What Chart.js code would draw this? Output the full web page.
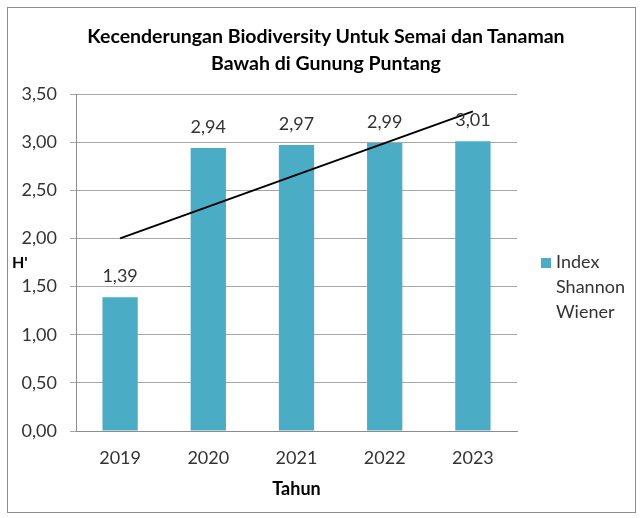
<!DOCTYPE html>
<html>
<head>
<meta charset="utf-8">
<script src="https://cdn.jsdelivr.net/npm/chart.js@4"></script>
<style>
  body { margin: 0; background: #fff; font-family: Lato, "Open Sans", sans-serif; }
  #wrap { position: relative; width: 643px; height: 518px; }
  #frame { position: absolute; left: 7px; top: 7px; width: 627px; height: 504px; border: 1px solid #8c8c8c; }
  #title { position: absolute; left: 0; width: 652px; top: 22px; text-align: center; font-weight: bold; font-size: 19.5px; line-height: 27px; color: #000; }
  #ylab { position: absolute; left: 12px; top: 252px; font-weight: bold; font-size: 16px; }
  #legend { position: absolute; left: 541px; top: 249px; font-size: 18px; line-height: 25px; color: #333; }
  #legend span.box { display: inline-block; width: 10px; height: 10px; background: #4bacc6; margin-right: 5px; }
  #legend div.txt { padding-left: 15px; }
  canvas { position: absolute; left: 0; top: 0; }
</style>
</head>
<body>
<div id="wrap">
  <div id="frame"></div>
  <canvas id="chart" width="643" height="518"></canvas>
  <div id="title">Kecenderungan Biodiversity Untuk Semai dan Tanaman<br>Bawah di Gunung Puntang</div>
  <div id="ylab">H'</div>
  <div id="legend"><span class="box"></span>Index<div class="txt">Shannon</div><div class="txt">Wiener</div></div>
</div>
<script>
// data
const years = ["2019", "2020", "2021", "2022", "2023"];
const shannonIndex = [1.39, 2.94, 2.97, 2.99, 3.01];
// trend line endpoints (first and last year only)
const trendLine = [2.00, null, null, null, 3.32];

const fmt = (v) => v.toFixed(2).replace(".", ",");

// value labels above bars
const barLabels = {
  id: "barLabels",
  afterDatasetsDraw(chart) {
    const ctx = chart.ctx;
    const meta = chart.getDatasetMeta(0);
    ctx.save();
    ctx.font = "18px Lato";
    ctx.fillStyle = "#333";
    ctx.textAlign = "center";
    ctx.textBaseline = "alphabetic";
    meta.data.forEach((bar, i) => {
      ctx.fillText(fmt(shannonIndex[i]), bar.x, bar.y - 15);
    });
    ctx.restore();
  },
};

const ctx = document.getElementById("chart").getContext("2d");
new Chart(ctx, {
  data: {
    labels: years,
    datasets: [
      {
        type: "bar",
        label: "Index Shannon Wiener",
        data: shannonIndex,
        backgroundColor: "#4bacc6",
        categoryPercentage: 1,
        barPercentage: 0.4,
        order: 2,
      },
      {
        type: "line",
        label: "Trend",
        data: trendLine,
        borderColor: "#000",
        borderWidth: 2,
        pointRadius: 0,
        spanGaps: true,
        tension: 0,
        order: 1,
      },
    ],
  },
  options: {
    responsive: false,
    animation: false,
    layout: { padding: { top: 94, left: 0, right: 126, bottom: 0 } },
    plugins: {
      legend: { display: false },
      title: { display: false },
      tooltip: { enabled: false },
    },
    scales: {
      x: {
        offset: true,
        afterFit(scale) { scale.height = 87; },
        grid: { display: false, drawTicks: true, tickLength: 6, color: "#8c8c8c" },
        border: { color: "#8c8c8c" },
        ticks: { color: "#333", font: { family: "Lato", size: 18 }, padding: 10 },
        title: {
          display: true,
          text: "Tahun",
          color: "#000",
          font: { family: "Lato", size: 18, weight: "bold" },
          padding: { top: 0, bottom: 18 },
        },
      },
      y: {
        min: 0,
        max: 3.5,
        afterFit(scale) { scale.width = 76; },
        grid: { color: "#a6a6a6", tickLength: 6 },
        border: { color: "#8c8c8c" },
        ticks: {
          stepSize: 0.5,
          color: "#333",
          font: { family: "Lato", size: 18 },
          padding: 13,
          callback: (v) => fmt(v),
        },
      },
    },
  },
  plugins: [barLabels],
});
</script>
</body>
</html>
